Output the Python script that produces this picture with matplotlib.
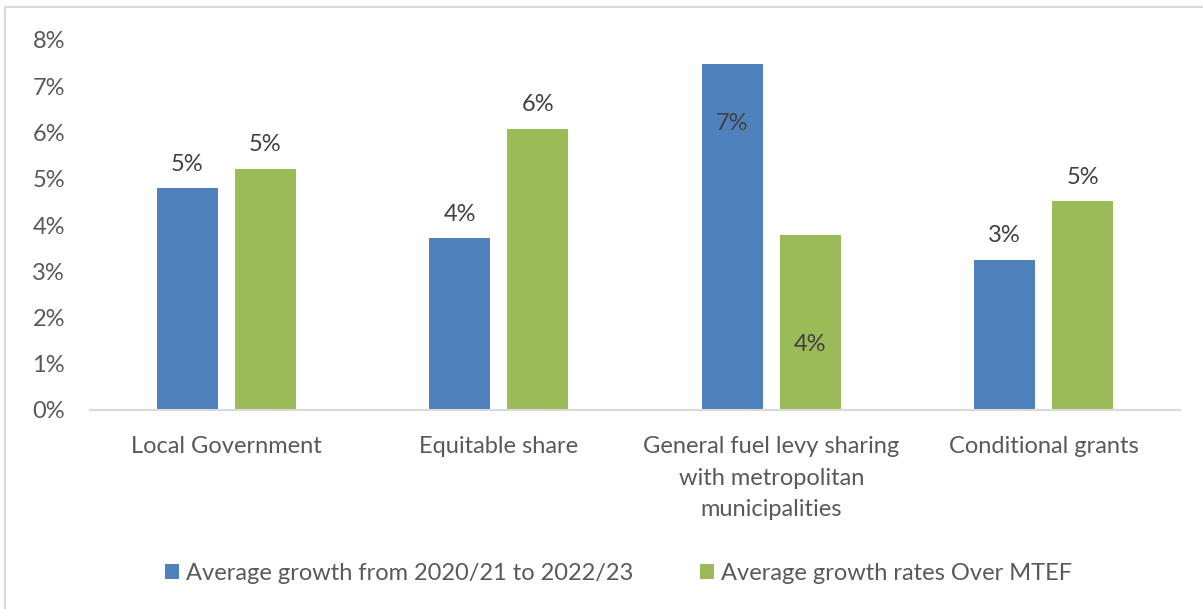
import numpy as np
from matplotlib import pyplot as plt
from matplotlib.patches import Rectangle
from matplotlib.ticker import FuncFormatter

categories = ["Local Government", "Equitable share",
              "General fuel levy sharing\nwith metropolitan\nmunicipalities",
              "Conditional grants"]
series_names = ["Average growth from 2020/21 to 2022/23",
                "Average growth rates Over MTEF"]
growth_2020_2023 = [4.79, 3.71, 7.48, 3.24]
growth_mtef = [5.22, 6.08, 3.78, 4.51]

# a couple of labels were dragged inside their bars
label_y_blue = [None, None, 6.2, None]
label_y_green = [None, None, 1.42, None]

plt.rcParams['font.family'] = ['Lato', 'DejaVu Sans']
text_col = '#595959'
fs = 17

fig = plt.figure(figsize=(12.03, 6.09), dpi=100)
fig.patches.append(Rectangle((5 / 1203, -0.1), 1.2, 1 - 7 / 609 + 0.1,
                             transform=fig.transFigure, fill=False,
                             edgecolor='#D9D9D9', linewidth=1.5))
ax = fig.add_axes([90 / 1203, 1 - 410 / 609, 1090 / 1203, 370 / 609])

x = np.arange(len(categories))
w = 0.224
off = 0.143
b1 = ax.bar(x - off, growth_2020_2023, w, color='#4F81BD', label=series_names[0])
b2 = ax.bar(x + off, growth_mtef, w, color='#9BBB59', label=series_names[1])

for bars, vals, ly in [(b1, growth_2020_2023, label_y_blue), (b2, growth_mtef, label_y_green)]:
    for rect, v, y in zip(bars, vals, ly):
        cx = rect.get_x() + rect.get_width() / 2
        if y is None:
            ax.annotate("%d%%" % round(v), (cx, v), xytext=(0, 10), textcoords='offset points',
                        ha='center', va='bottom', fontsize=fs, color='#404040')
        else:
            ax.text(cx, y, "%d%%" % round(v), ha='center', va='center',
                    fontsize=fs, color='#404040')

ax.set_ylim(0, 8)
ax.set_xlim(-0.5, len(categories) - 0.5)
ax.set_yticks(range(0, 9))
ax.yaxis.set_major_formatter(FuncFormatter(lambda v, p: "%d%%" % v))
ax.set_xticks(x)
ax.set_xticklabels(categories, linespacing=1.6)
ax.tick_params(axis='y', length=0, pad=18, labelsize=fs, labelcolor=text_col)
ax.tick_params(axis='x', length=0, pad=19, labelsize=fs, labelcolor=text_col)
for s in ['top', 'right', 'left']:
    ax.spines[s].set_visible(False)
ax.spines['bottom'].set_color('#D9D9D9')
ax.spines['bottom'].set_linewidth(1.5)

leg = fig.legend(loc='center', bbox_to_anchor=(0.514, 1 - 573 / 609), ncol=2,
                 frameon=False, fontsize=fs, handlelength=0.6, handleheight=0.6,
                 handletextpad=0.3, columnspacing=2.8)
for t in leg.get_texts():
    t.set_color(text_col)

fig.savefig("out.png", dpi=100)
